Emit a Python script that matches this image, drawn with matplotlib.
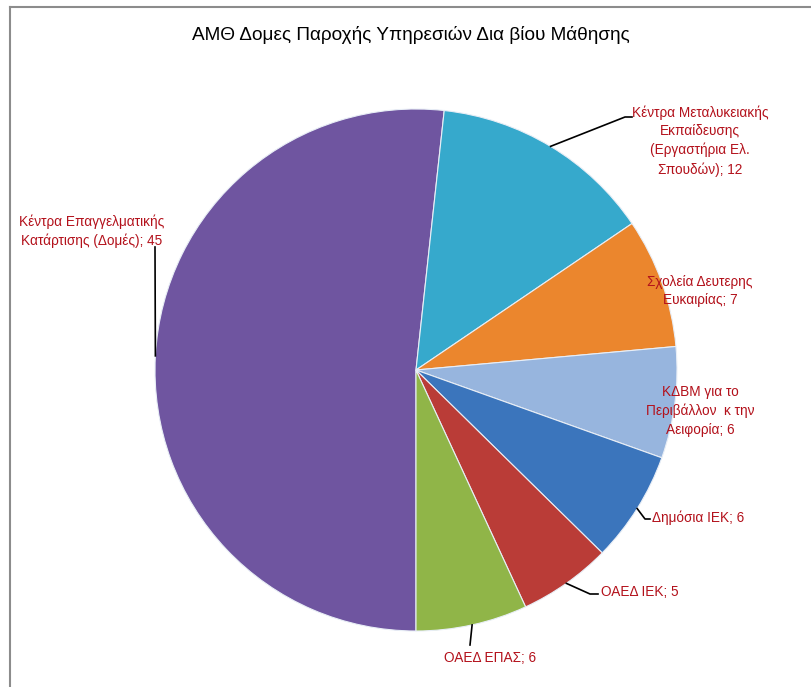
import numpy as np
import matplotlib.pyplot as plt
from matplotlib.lines import Line2D

plt.rcParams['font.family'] = ['Liberation Sans', 'DejaVu Sans']

# data (clockwise from 6 o'clock)
labels = ['Κέντρα Επαγγελματικής\nΚατάρτισης (Δομές); 45',
          'Κέντρα Μεταλυκειακής\nΕκπαίδευσης\n(Εργαστήρια Ελ.\nΣπουδών); 12',
          'Σχολεία Δευτερης\nΕυκαιρίας; 7',
          'ΚΔΒΜ για το\nΠεριβάλλον  κ την\nΑειφορία; 6',
          'Δημόσια ΙΕΚ; 6',
          'ΟΑΕΔ ΙΕΚ; 5',
          'ΟΑΕΔ ΕΠΑΣ; 6']
values = [45, 12, 7, 6, 6, 5, 6]
colors = ['#6f55a0', '#36a9cc', '#eb862d', '#97b5de', '#3b75bc', '#ba3c37', '#90b548']

W, H = 811, 687
fig = plt.figure(figsize=(W / 100, H / 100), dpi=100)
ax = fig.add_axes([0, 0, 1, 1])
ax.axis('off')

cx, cy, r = 416, H - 370, 261
wedges, _ = ax.pie(values, colors=colors, startangle=-90, counterclock=False,
                   center=(cx, cy), radius=r,
                   wedgeprops=dict(edgecolor='#e8eef6', linewidth=0.8))
ax.set_xlim(0, W)
ax.set_ylim(0, H)
ax.set_aspect('auto')

# label layout in pixels from top-left: (text x, text y, ha, leader bend points)
layout = [
    (92, 231, 'center', [(155, 247)]),
    (700, 141, 'center', [(625, 117), (632, 117)]),
    (700, 291, 'center', None),
    (700, 411, 'center', None),
    (652, 518, 'left', [(645, 519), (650, 519)]),
    (601, 592, 'left', [(590, 594), (598, 594)]),
    (490, 658, 'center', [(470, 645)]),
]

for w, lab, (tx, ty, ha, bends) in zip(wedges, labels, layout):
    mid = np.deg2rad((w.theta1 + w.theta2) / 2)
    ex, ey = cx + r * np.cos(mid), cy + r * np.sin(mid)
    ax.text(tx, H - ty, lab, ha=ha, va='center', color='#b3111b', fontsize=9.8,
            linespacing=1.4, zorder=5)
    if bends:
        xs = [ex] + [b[0] for b in bends]
        ys = [ey] + [H - b[1] for b in bends]
        ax.plot(xs, ys, color='black', lw=1.2, zorder=4)

ax.text(411, H - 35, 'ΑΜΘ Δομες Παροχής Υπηρεσιών Δια βίου Μάθησης', ha='center',
        va='center', fontsize=13.7, color='black')

fig.add_artist(Line2D([9.5 / W, 9.5 / W], [0, 1 - 6.5 / H], transform=fig.transFigure,
                      color='#8c8c8c', lw=1.5))
fig.add_artist(Line2D([9.5 / W, 1], [1 - 6.5 / H, 1 - 6.5 / H], transform=fig.transFigure,
                      color='#8c8c8c', lw=1.5))

fig.savefig('out.png', dpi=100)
